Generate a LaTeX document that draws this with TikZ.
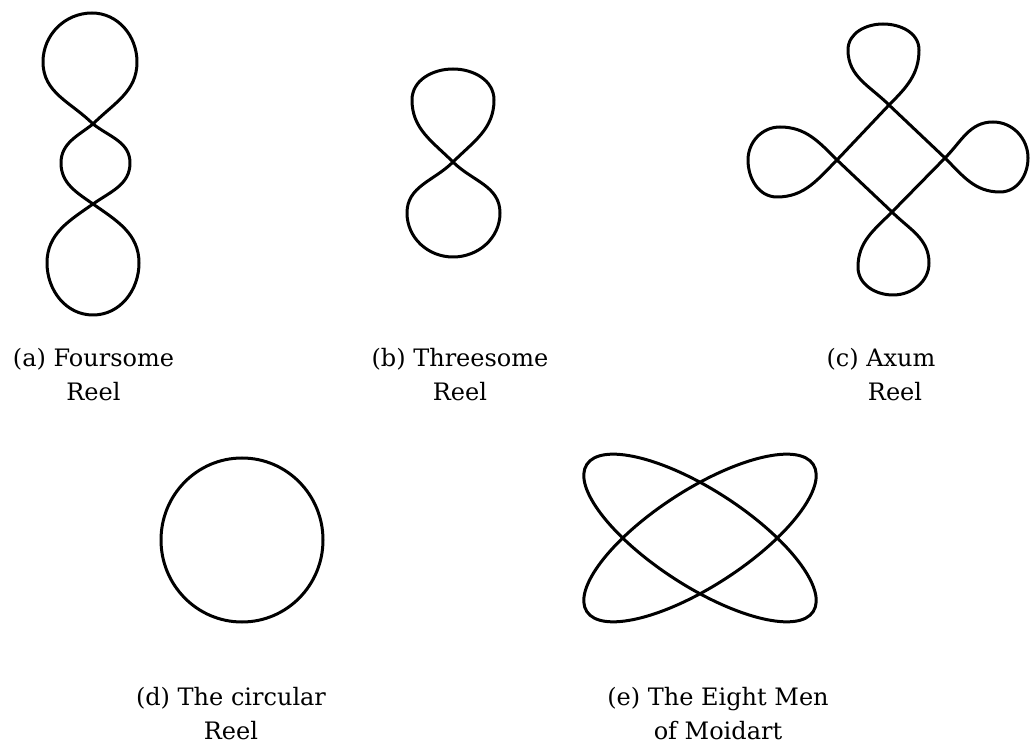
\documentclass[tikz,border=0pt]{standalone}
\usepackage{fontspec}
\setmainfont{DejaVu Serif}
\begin{document}
\begin{tikzpicture}[x=1pt,y=1pt,
  curve/.style={line width=3pt, line join=round, line cap=round},
  lbl/.style={font=\fontsize{24}{34}\selectfont, align=center, inner sep=0pt, anchor=base}]
\useasboundingbox (0,0) rectangle (1031,745);

% (a) Foursome Reel
\coordinate (a1) at (93,621);
\coordinate (a2) at (93,541);
\draw[curve] (a1) to[out=45,in=-90] (137,683) to[out=90,in=0] (92,732)
  to[out=180,in=90] (43,683) to[out=-90,in=135] (a1)
  to[out=-38,in=90] (130,582) to[out=-90,in=35] (a2)
  to[out=-145,in=90] (47,482) to[out=-90,in=180] (93,430)
  to[out=0,in=-90] (139,482) to[out=90,in=-35] (a2)
  to[out=145,in=-90] (61,582) to[out=90,in=-142] (a1);

% (b) Threesome Reel
\coordinate (bc) at (453,583);
\draw[curve] (bc) to[out=45,in=-90] (494,645) to[out=90,in=0] (453,676)
  to[out=180,in=90] (412,645) to[out=-90,in=135] (bc)
  to[out=-45,in=90] (500,532) to[out=-90,in=0] (453,488)
  to[out=180,in=-90] (407,532) to[out=90,in=-135] (bc);

% (c) Axum Reel
\coordinate (cT) at (889,640);
\coordinate (cR) at (945,587);
\coordinate (cB) at (892,533);
\coordinate (cL) at (837,585);
\draw[curve] (cT) to[out=45,in=-90] (919,695) to[out=90,in=0] (883,721)
  to[out=180,in=90] (848,695) to[out=-90,in=135] (cT)
  -- (cR) to[out=-45,in=180] (1000,553) to[out=0,in=-90] (1028,587)
  to[out=90,in=0] (993,623) to[out=180,in=45] (cR)
  -- (cB) to[out=-135,in=90] (858,478) to[out=-90,in=180] (893,450)
  to[out=0,in=-90] (929,482) to[out=90,in=-45] (cB)
  -- (cL) to[out=135,in=0] (780,618) to[out=180,in=90] (748,585)
  to[out=-90,in=180] (777,548) to[out=0,in=-135] (cL) -- cycle;

% (d) The circular Reel
\coordinate (dc) at (242,205);
\draw[curve] (dc) ellipse[x radius=81, y radius=82];

% (e) The Eight Men of Moidart
\coordinate (ec) at (700,207);
\draw[curve, rotate around={33:(ec)}] (ec) ellipse[x radius=135, y radius=48];
\draw[curve, rotate around={-33:(ec)}] (ec) ellipse[x radius=135, y radius=48];

% labels
\node[lbl] (la) at (93.5,344) {(a) Foursome\\Reel};
\node[lbl] (lb) at (460,344) {(b) Threesome\\Reel};
\node[lbl] (lc) at (881,344) {(c) Axum\\\hspace*{28pt}Reel};
\node[lbl] (ld) at (231,6) {(d) The circular\\Reel};
\node[lbl] (le) at (718,6) {(e) The Eight Men\\of Moidart};
\end{tikzpicture}
\end{document}
